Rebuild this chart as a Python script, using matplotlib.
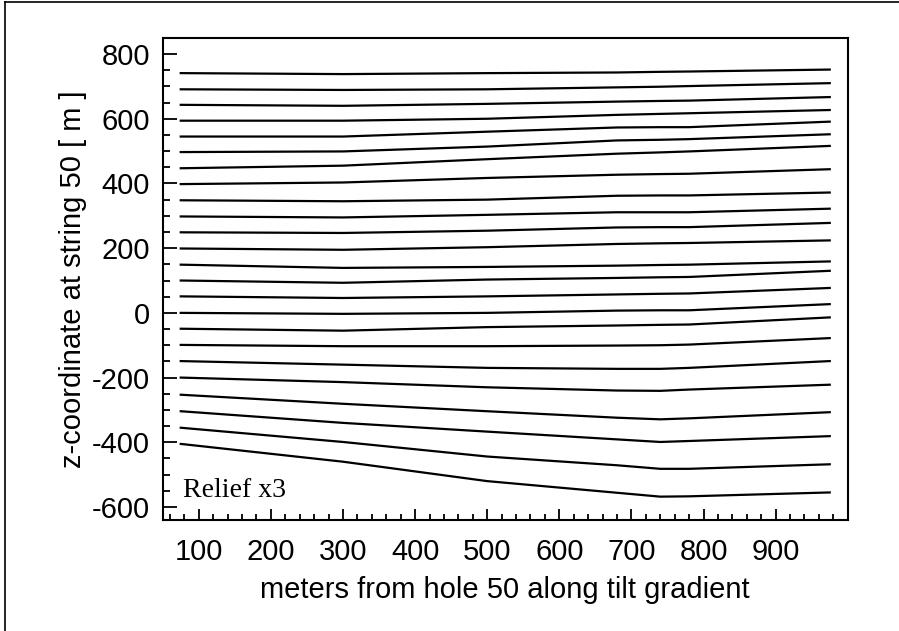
import numpy as np
import matplotlib
matplotlib.use("Agg")
import matplotlib.pyplot as plt
from matplotlib.lines import Line2D
from matplotlib.ticker import MultipleLocator

plt.rcParams["font.family"] = ["Liberation Sans", "DejaVu Sans"]
plt.rcParams["axes.unicode_minus"] = False

# distance along tilt gradient (m) where each horizon is sampled
dist = [75, 300, 500, 680, 740, 780, 975]

# z of each horizon at the sample points (top to bottom)
z1 = [741, 738, 741, 743, 745, 746, 752]
z2 = [691, 689, 691, 697, 699, 701, 710]
z3 = [643, 640, 646, 653, 655, 656, 667]
z4 = [594, 594, 600, 612, 615, 617, 627]
z5 = [545, 545, 560, 573, 574, 574, 591]
z6 = [497, 499, 514, 533, 535, 537, 552]
z7 = [447, 455, 475, 492, 496, 499, 516]
z8 = [398, 403, 417, 427, 429, 430, 444]
z9 = [348, 345, 350, 362, 363, 363, 372]
z10 = [298, 295, 303, 311, 311, 311, 322]
z11 = [249, 247, 254, 264, 265, 265, 278]
z12 = [199, 195, 203, 213, 215, 216, 224]
z13 = [149, 139, 142, 146, 148, 149, 159]
z14 = [100, 93, 103, 108, 110, 111, 130]
z15 = [51, 46, 51, 57, 59, 60, 77]
z16 = [0, -3, 0, 7, 8, 8, 27]
z17 = [-49, -55, -44, -39, -37, -36, -14]
z18 = [-99, -103, -103, -101, -100, -98, -78]
z19 = [-149, -160, -170, -173, -173, -170, -149]
z20 = [-200, -214, -230, -240, -241, -237, -222]
z21 = [-253, -281, -304, -324, -329, -326, -307]
z22 = [-304, -340, -367, -391, -399, -396, -381]
z23 = [-355, -399, -444, -471, -482, -482, -468]
z24 = [-405, -460, -520, -556, -568, -567, -555]

horizons = [z1, z2, z3, z4, z5, z6, z7, z8, z9, z10, z11, z12,
            z13, z14, z15, z16, z17, z18, z19, z20, z21, z22, z23, z24]

fig = plt.figure(figsize=(8.99, 6.31), dpi=100)
ax = fig.add_axes([0.181, 0.176, 0.762, 0.764])

for z in horizons:
    ax.plot(dist, z, color="black", lw=1.6)

ax.set_xlim(50, 1000)
ax.set_ylim(-640, 850)
ax.xaxis.set_minor_locator(MultipleLocator(20))
ax.yaxis.set_major_locator(MultipleLocator(200))
ax.yaxis.set_minor_locator(MultipleLocator(50))
ax.set_xticks(np.arange(100, 1000, 100))

ax.tick_params(axis="both", which="both", direction="in",
               top=False, right=False, width=1.3, labelsize=21)
ax.tick_params(axis="y", which="major", length=10, pad=9)
ax.tick_params(axis="y", which="minor", length=5)
ax.tick_params(axis="x", which="major", length=8, pad=13)
ax.tick_params(axis="x", which="minor", length=4)
for s in ax.spines.values():
    s.set_linewidth(1.5)

ax.set_xlabel("meters from hole 50 along tilt gradient", fontsize=21, labelpad=7)
ax.set_ylabel("z-coordinate at string 50 [ m ]", fontsize=21, labelpad=4)

ax.text(0.03, 0.035, "Relief x3", transform=ax.transAxes, fontsize=20,
        family="Liberation Serif", ha="left", va="bottom")

# thin frame around the page
fig.add_artist(Line2D([0.006, 0.006], [0, 0.997], color="black", lw=1.2))
fig.add_artist(Line2D([0.006, 1.0], [0.997, 0.997], color="black", lw=1.2))

fig.savefig("out.png", dpi=100)
